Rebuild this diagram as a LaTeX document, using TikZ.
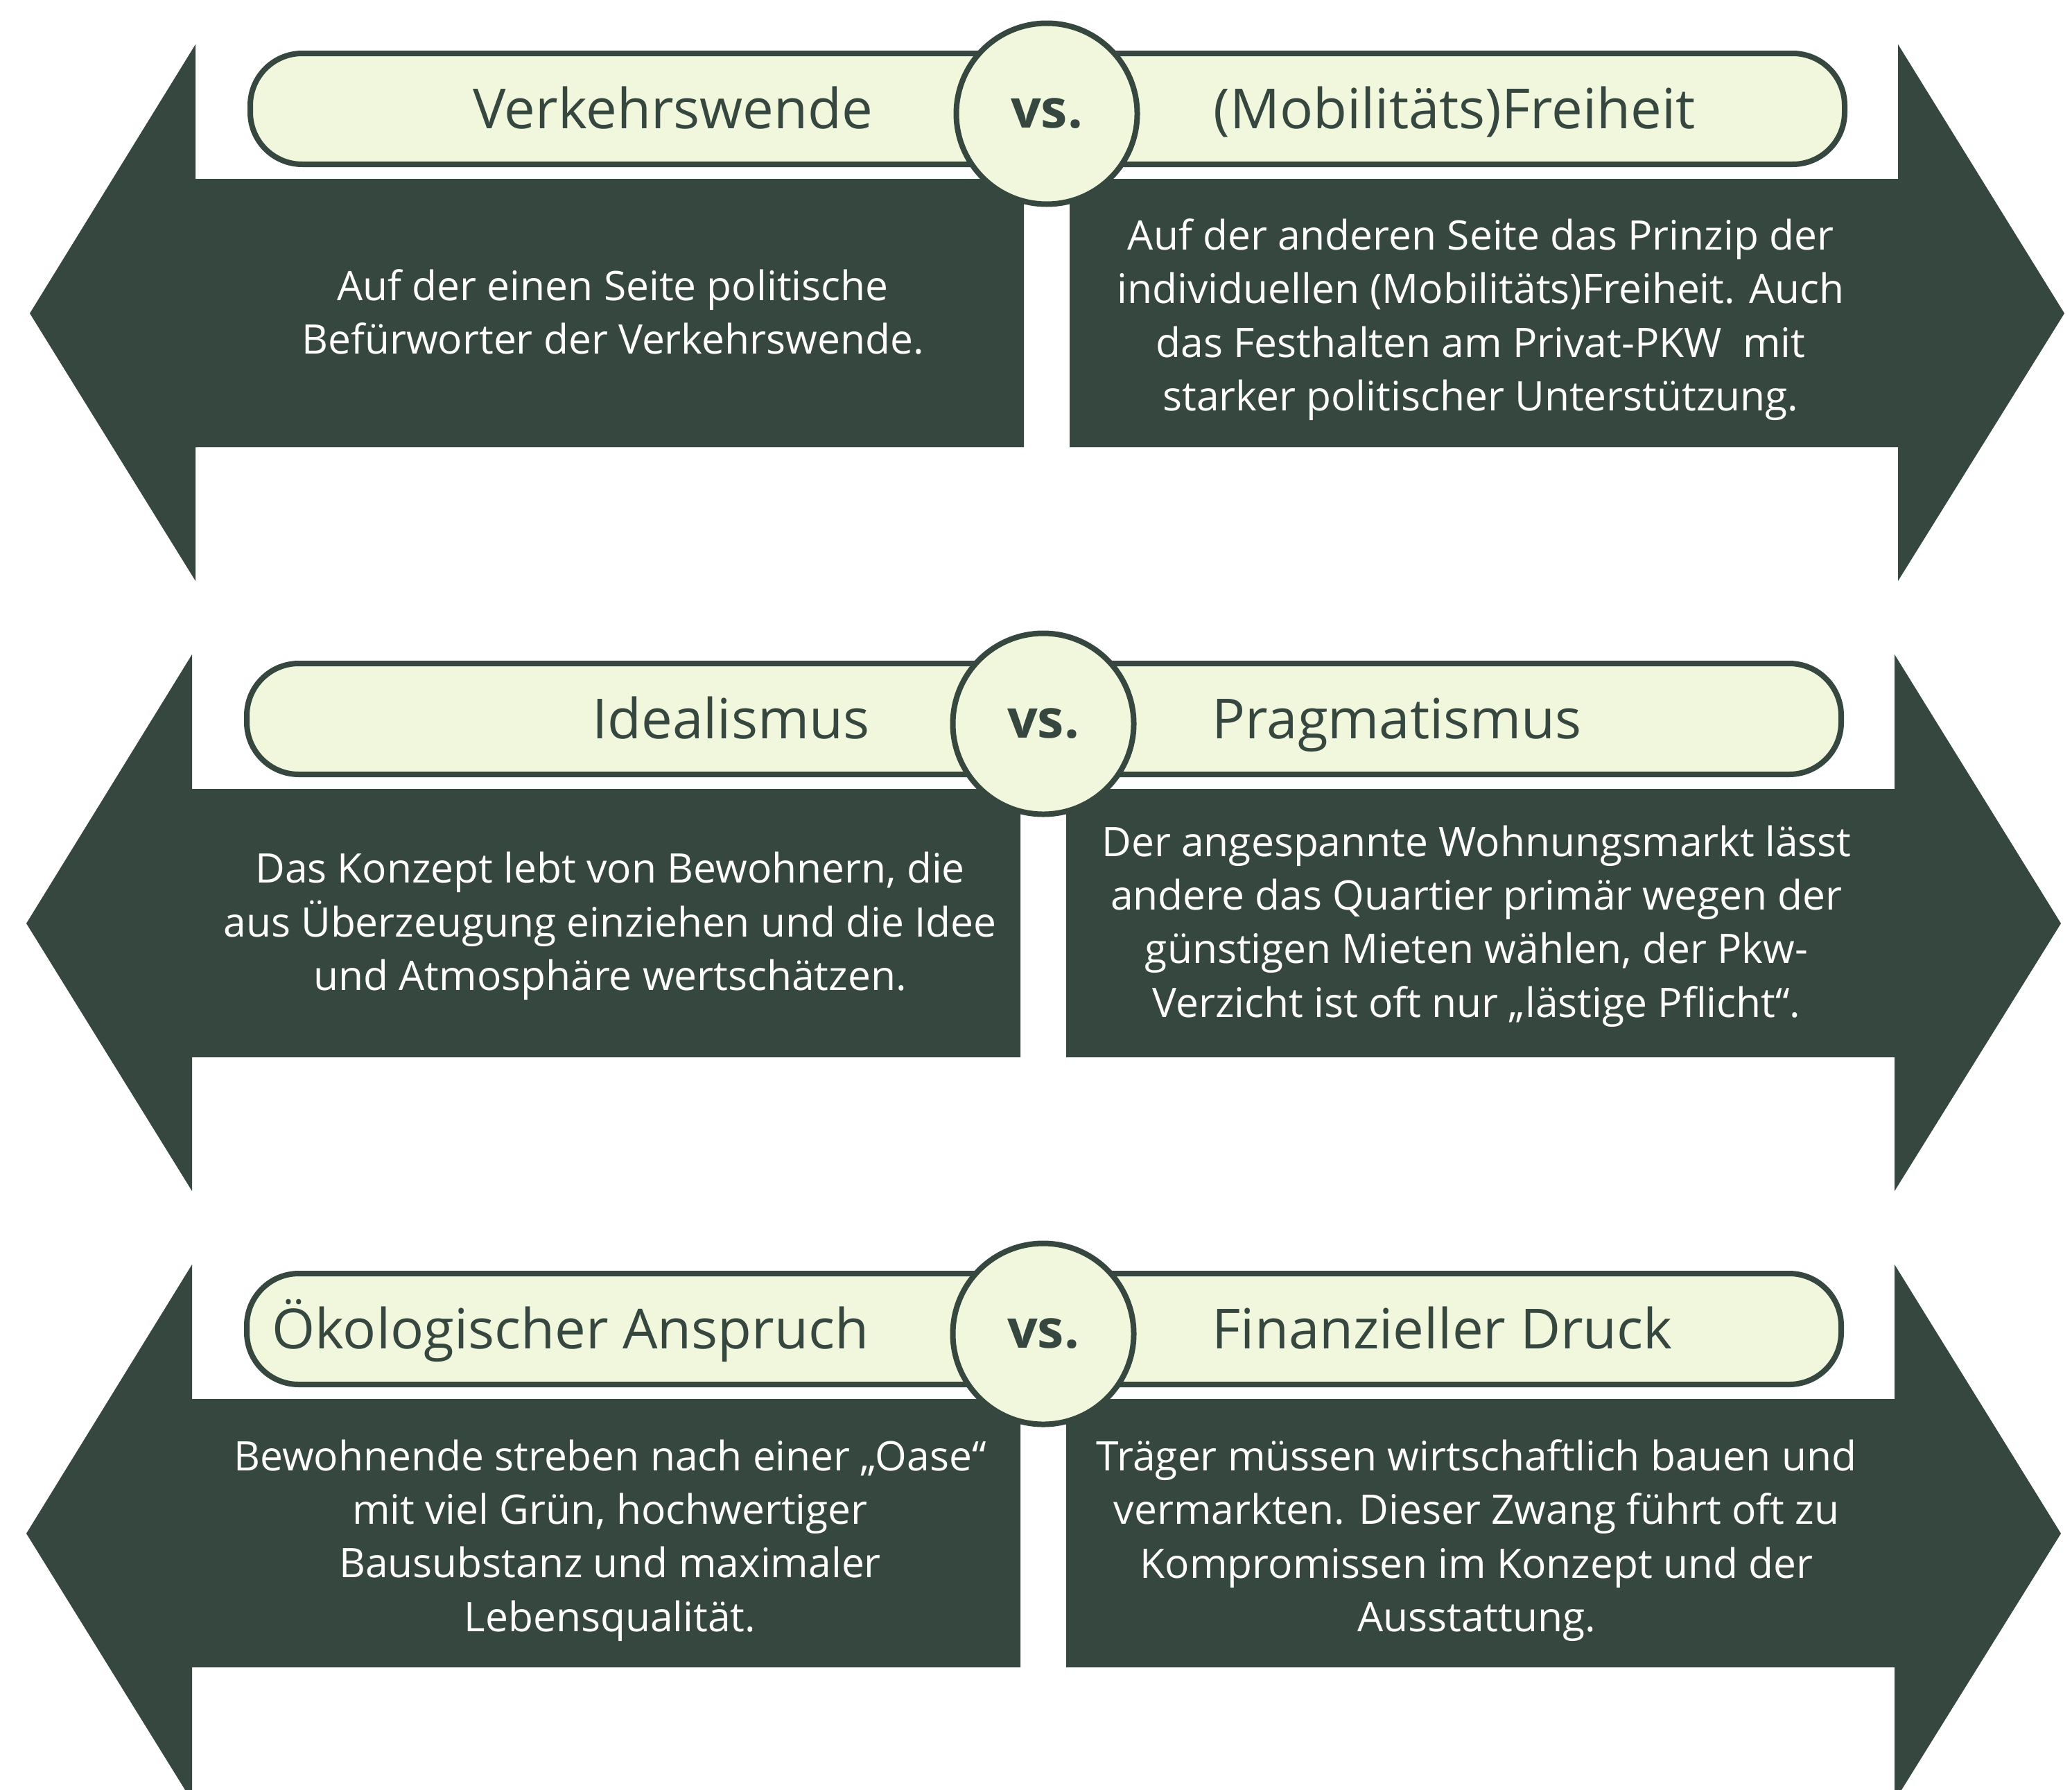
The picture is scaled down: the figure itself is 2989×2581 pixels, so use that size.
\documentclass[tikz,border=0pt]{standalone}
\usepackage{fontspec}
\setmainfont{Open Sans}
\usepackage{xcolor}
\definecolor{vsDark}{HTML}{35473F}
\definecolor{vsLight}{HTML}{F1F7DD}
\usetikzlibrary{positioning}
\tikzset{
    arrowbody/.style={
        fill=vsDark
    },
    pill/.style={
        draw=vsDark,
        fill=vsLight,
        rectangle,
        rounded corners=7.5mm,
        line width=0.8mm,
        minimum width=230mm,
        minimum height=16mm,
        inner sep=0pt
    },
    vscircle/.style={
        draw=vsDark,
        fill=vsLight,
        circle,
        line width=0.8mm,
        minimum size=26.1mm,
        inner sep=0pt,
        text=vsDark,
        font=\fontsize{21.9}{24}\selectfont\bfseries
    },
    heading/.style={
        text=vsDark,
        inner sep=0pt,
        font=\fontsize{22.7}{27}\selectfont
    },
    bodytext/.style={
        text=white,
        align=center,
        inner sep=0pt,
        font=\fontsize{16.7}{22}\selectfont
    }
}

\begin{document}
\begin{tikzpicture}[x=0.1mm, y=-0.1mm]
    \clip (0,0) rectangle (2989,2581);

    % Double arrows, pills and vs. circles
    \foreach \i/\dx/\dy in {1/0/0, 2/-5/880, 3/-5/1760} {
        \begin{scope}[shift={(\dx,\dy)}]
            \fill[arrowbody] (43,452) -- (282,64) -- (282,258) -- (1477,258)
                -- (1477,645) -- (282,645) -- (282,838) -- cycle;
            \fill[arrowbody] (2978,452) -- (2738,64) -- (2738,258) -- (1543,258)
                -- (1543,645) -- (2738,645) -- (2738,838) -- cycle;
            \node[pill] (pill\i) at (1511,157) {};
            \node[vscircle] (vs\i) at (1510,164) {vs.};
        \end{scope}
    }

    % Row 1
    \node[heading, anchor=base east] (lhead1) at (1260,185) {Verkehrswende};
    \node[heading, anchor=base west] (rhead1) at (1750,185) {(Mobilitäts)Freiheit};
    \node[bodytext] (ltext1) at (884,450)
        {Auf der einen Seite politische\\Befürworter der Verkehrswende.};
    \node[bodytext] (rtext1) at (2136,461)
        {Auf der anderen Seite das Prinzip der\\individuellen (Mobilitäts)Freiheit. Auch\\das Festhalten am Privat-PKW\ \ mit\\starker politischer Unterstützung.};

    % Row 2
    \node[heading, anchor=base east] (lhead2) at (1255,1065) {Idealismus};
    \node[heading, anchor=base west] (rhead2) at (1748,1065) {Pragmatismus};
    \node[bodytext] (ltext2) at (880,1336)
        {Das Konzept lebt von Bewohnern, die\\aus Überzeugung einziehen und die Idee\\und Atmosphäre wertschätzen.};
    \node[bodytext] (rtext2) at (2130,1336)
        {Der angespannte Wohnungsmarkt lässt\\andere das Quartier primär wegen der\\günstigen Mieten wählen, der Pkw-\\Verzicht ist oft nur „lästige Pflicht“.};

    % Row 3
    \node[heading, anchor=base east] (lhead3) at (1254,1945) {Ökologischer Anspruch};
    \node[heading, anchor=base west] (rhead3) at (1748,1945) {Finanzieller Druck};
    \node[bodytext] (ltext3) at (880,2222)
        {Bewohnende streben nach einer „Oase“\\mit viel Grün, hochwertiger\\Bausubstanz und maximaler\\Lebensqualität.};
    \node[bodytext] (rtext3) at (2130,2222)
        {Träger müssen wirtschaftlich bauen und\\vermarkten. Dieser Zwang führt oft zu\\Kompromissen im Konzept und der\\Ausstattung.};
\end{tikzpicture}
\end{document}
